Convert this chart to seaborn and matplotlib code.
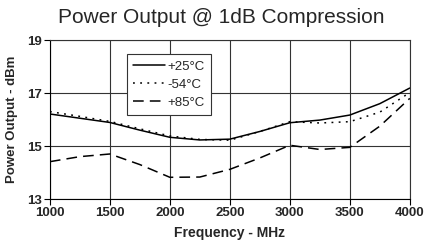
import pandas as pd
import matplotlib
matplotlib.use("Agg")
import matplotlib.pyplot as plt
import seaborn as sns

# values
freq = [1000, 1250, 1500, 1750, 2000, 2250, 2500, 2750, 3000, 3250, 3500, 3750, 4000]
p25 = [16.21, 16.05, 15.89, 15.60, 15.33, 15.23, 15.26, 15.55, 15.88, 15.98, 16.17, 16.60, 17.19]
m54 = [16.30, 16.12, 15.93, 15.65, 15.38, 15.25, 15.22, 15.55, 15.92, 15.87, 15.92, 16.28, 17.02]
p85 = [14.41, 14.60, 14.70, 14.30, 13.82, 13.83, 14.12, 14.55, 15.03, 14.87, 14.95, 15.75, 16.80]
labels = ["+25°C", "-54°C", "+85°C"]

df = pd.DataFrame({"Frequency": freq * 3,
                   "Power": p25 + m54 + p85,
                   "Temp": [labels[0]] * len(freq) + [labels[1]] * len(freq) + [labels[2]] * len(freq)})

sns.set_style("white")
plt.rcParams['font.family'] = ['Liberation Sans', 'DejaVu Sans']

fig = plt.figure(figsize=(4.3, 2.43), dpi=100)
ax = fig.add_axes([0.116, 0.181, 0.837, 0.654])

styles = {labels[0]: "-", labels[1]: (0, (1.2, 3.5)), labels[2]: (0, (7, 4))}
for lab in labels:
    sub = df[df["Temp"] == lab]
    sns.lineplot(data=sub, x="Frequency", y="Power", ax=ax, color="black",
                 linewidth=1.1, linestyle=styles[lab], label=lab)

ax.set_xlim(1000, 4000)
ax.set_ylim(13, 19)
ax.set_xticks(range(1000, 4001, 500))
ax.set_yticks([13, 15, 17, 19])
ax.grid(True, color="#333333", linewidth=0.8)
for s in ax.spines.values():
    s.set_color("#333333")
    s.set_linewidth(0.8)
ax.spines["left"].set_color("black")
ax.spines["bottom"].set_color("black")
ax.tick_params(axis="both", direction="out", length=4, width=0.8, color="black",
               labelsize=9.5, pad=2, bottom=True, left=True)
for t in ax.get_xticklabels() + ax.get_yticklabels():
    t.set_fontweight("bold")
ax.set_xlabel("Frequency - MHz", fontsize=10, fontweight="bold", labelpad=5)
ax.set_ylabel("Power Output - dBm", fontsize=9.5, fontweight="bold", labelpad=6)
ax.set_title("Power Output @ 1dB Compression", fontsize=15, pad=12, x=0.475)

leg = ax.legend(loc="upper left", bbox_to_anchor=(0.215, 0.91), fontsize=9.5,
                frameon=True, fancybox=False, handlelength=2.4, handletextpad=0.2,
                borderpad=0.45, labelspacing=0.45, borderaxespad=0)
leg.get_frame().set_edgecolor("#333333")
leg.get_frame().set_linewidth(0.8)
leg.get_frame().set_alpha(1)

fig.savefig("out.png", dpi=100)
